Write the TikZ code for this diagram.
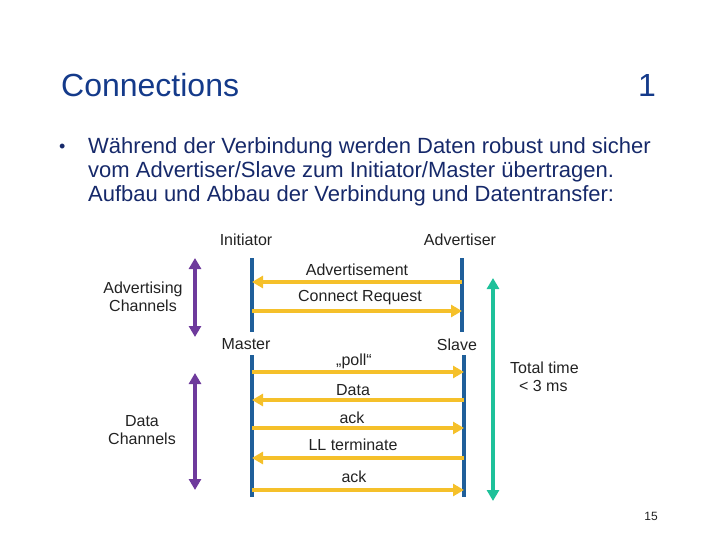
\documentclass[tikz,border=0pt]{standalone}
\usepackage{fontspec}
\setmainfont{Liberation Sans}
\usetikzlibrary{arrows.meta}
\definecolor{titleblue}{HTML}{143A8A}
\definecolor{bodyblue}{HTML}{16296A}
\definecolor{lifeblue}{HTML}{1F5F9A}
\definecolor{msgyellow}{HTML}{F5C02A}
\definecolor{chanpurple}{HTML}{6E3A9C}
\definecolor{timegreen}{HTML}{1EC19A}
\definecolor{txt}{HTML}{222222}
\tikzset{
  tip/.tip={Triangle[length=11pt,width=12pt]},
  lifeline/.style={draw=lifeblue,line width=3.2pt},
  msg/.style={draw=msgyellow,line width=3.5pt,-tip},
  chan/.style={draw=chanpurple,line width=3.5pt,tip-tip},
  tot/.style={draw=timegreen,line width=3.5pt,tip-tip},
  lbl/.style={font=\fontsize{16}{18.5}\selectfont,text=txt,inner sep=0pt},
  body/.style={font=\fontsize{22}{24}\selectfont,text=bodyblue,inner sep=0pt,anchor=west},
}
\begin{document}
\begin{tikzpicture}[x=1pt,y=-1pt]
\useasboundingbox (0,0) rectangle (720,540);
% title
\node[font=\fontsize{32}{36}\selectfont,text=titleblue,anchor=west,inner sep=0pt] (title) at (61,85) {Connections};
\node[font=\fontsize{32}{36}\selectfont,text=titleblue,anchor=east,inner sep=0pt] (num) at (656,85) {1};
% bullet text
\node[body,font=\fontsize{18}{24}\selectfont] (bul) at (59,148) {•};
\node[body] (l1) at (88,148) {Während der Verbindung werden Daten robust und sicher};
\node[body] (l2) at (88,172) {vom Advertiser/Slave zum Initiator/Master übertragen.};
\node[body] (l3) at (88,196) {Aufbau und Abbau der Verbindung und Datentransfer:};
% headers
\node[lbl] (ini) at (246,240) {Initiator};
\node[lbl] (adv) at (460,240) {Advertiser};
\node[lbl] (mas) at (246,344) {Master};
\node[lbl] (sla) at (457,345) {Slave};
% lifelines
\coordinate (iT) at (252,258); \coordinate (iB) at (252,332);
\coordinate (aT) at (462,258); \coordinate (aB) at (462,332);
\coordinate (mT) at (252,355); \coordinate (mB) at (252,497);
\coordinate (sT) at (464,355); \coordinate (sB) at (464,497);
\draw[lifeline] (iT) -- (iB);
\draw[lifeline] (aT) -- (aB);
\draw[lifeline] (mT) -- (mB);
\draw[lifeline] (sT) -- (sB);
% advertising messages
\coordinate (a1r) at (462,282); \coordinate (a1l) at (252,282);
\coordinate (a2l) at (252,311); \coordinate (a2r) at (462,311);
\draw[msg] (a1r) -- (a1l);
\draw[msg] (a2l) -- (a2r);
\node[lbl] (m1) at (357,270) {Advertisement};
\node[lbl] (m2) at (360,298) {Connect Request};
% data messages
\coordinate (d1l) at (252,372); \coordinate (d1r) at (464,372);
\coordinate (d2r) at (464,400); \coordinate (d2l) at (252,400);
\coordinate (d3l) at (252,428); \coordinate (d3r) at (464,428);
\coordinate (d4r) at (464,458); \coordinate (d4l) at (252,458);
\coordinate (d5l) at (252,490); \coordinate (d5r) at (464,490);
\draw[msg] (d1l) -- (d1r);
\draw[msg] (d2r) -- (d2l);
\draw[msg] (d3l) -- (d3r);
\draw[msg] (d4r) -- (d4l);
\draw[msg] (d5l) -- (d5r);
\node[lbl] (p1) at (354,361) {„poll“};
\node[lbl] (p2) at (353,390) {Data};
\node[lbl] (p3) at (352,418) {ack};
\node[lbl] (p4) at (353,445) {LL terminate};
\node[lbl] (p5) at (354,477) {ack};
% channel arrows
\coordinate (c1t) at (195,258); \coordinate (c1b) at (195,337);
\coordinate (c2t) at (195,373); \coordinate (c2b) at (195,490);
\draw[chan] (c1t) -- (c1b);
\draw[chan] (c2t) -- (c2b);
\node[lbl,align=center] (advch) at (143,297) {Advertising\\Channels};
\node[lbl,align=center] (datch) at (142,430) {Data\\Channels};
% total time
\coordinate (gt) at (493,278); \coordinate (gb) at (493,501);
\draw[tot] (gt) -- (gb);
\node[lbl,align=left,anchor=west] (tt) at (510,377) {Total time\\\ \ {<} 3 ms};
% page number
\node[font=\fontsize{12}{14}\selectfont,text=txt,inner sep=0pt] (pg) at (651,516) {15};
\end{tikzpicture}
\end{document}
